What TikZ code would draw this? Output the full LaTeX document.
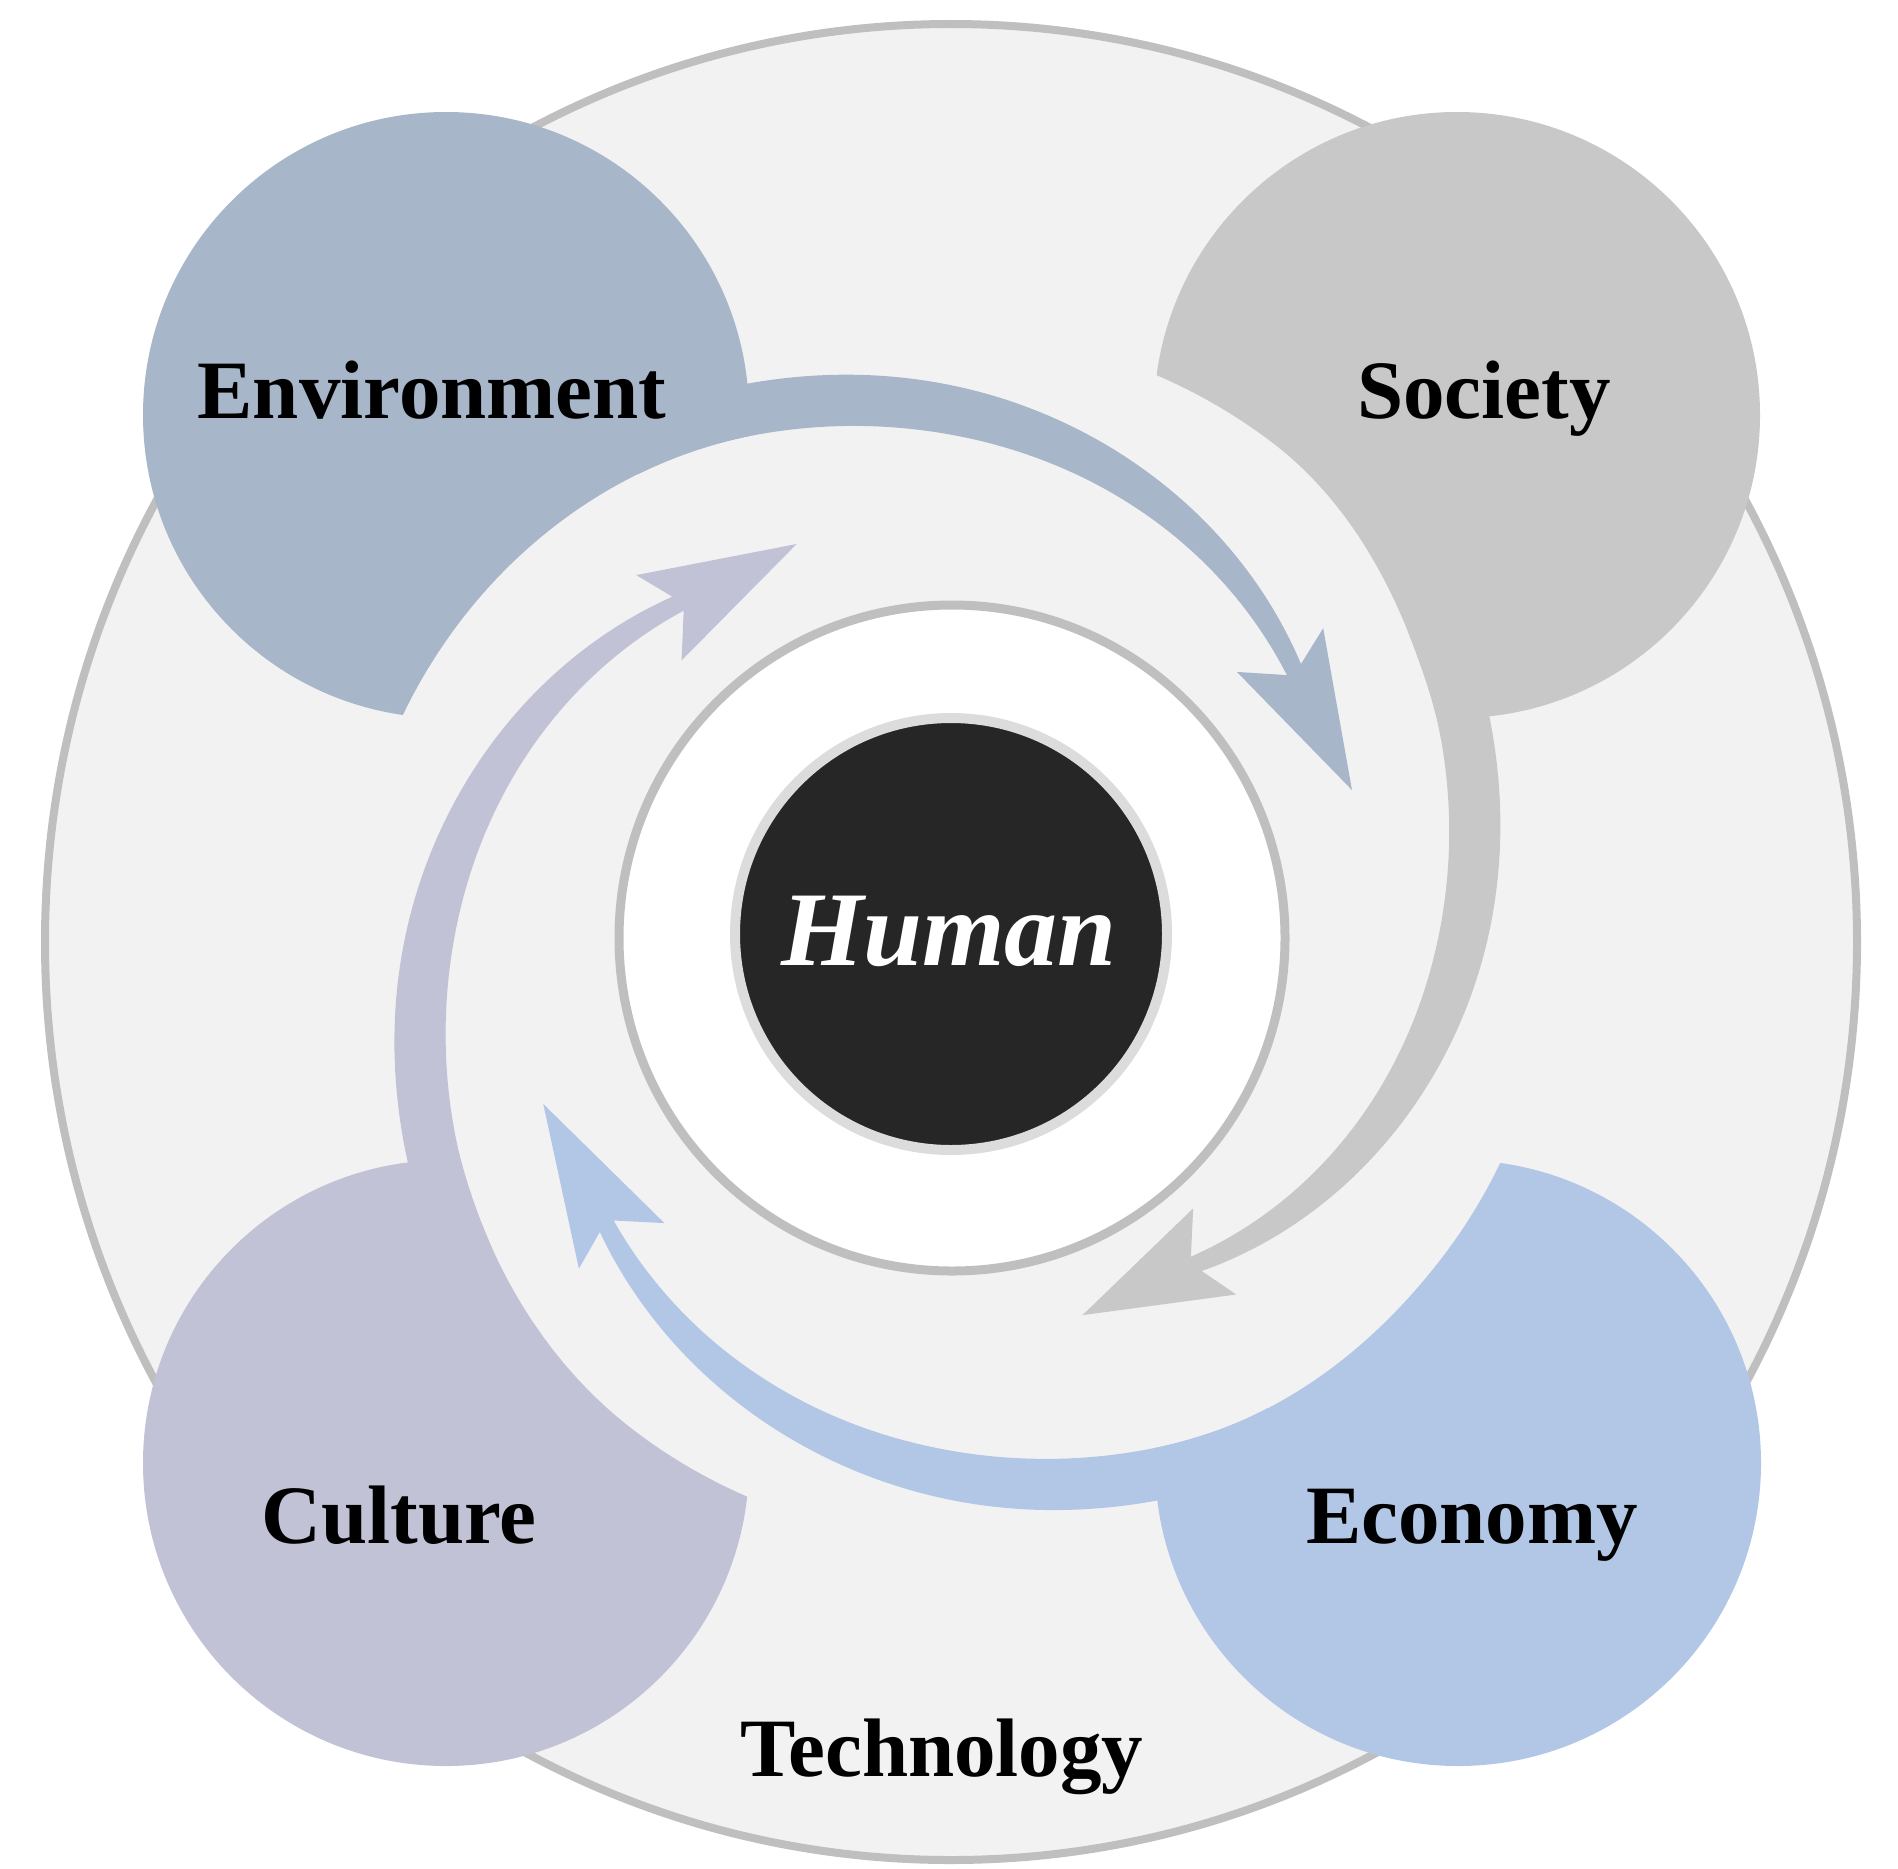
\documentclass[tikz,border=0pt]{standalone}
\usepackage{fontspec}
\setmainfont{Liberation Serif}
\usetikzlibrary{shapes.geometric}
\definecolor{cEnv}{HTML}{A8B6CA}
\definecolor{cSoc}{HTML}{C8C8C8}
\definecolor{cEco}{HTML}{B2C6E6}
\definecolor{cCul}{HTML}{C2C2D6}
\definecolor{cBg}{HTML}{F2F2F2}
\definecolor{cRing}{HTML}{BFBFBF}
\definecolor{cHum}{HTML}{262626}
\definecolor{cHumEdge}{HTML}{DCDCDC}
\tikzset{
  sat/.style={circle, minimum size=303pt, inner sep=0pt, draw=none},
  lab/.style={font=\fontsize{41.5}{48}\selectfont\bfseries, text=black, inner sep=0pt, anchor=base},
  declare function={
    rc(\p)=529+1.8*(\p-90);
    wd(\p)=53-4*ln(1+exp((35-0.65*(\p-38.2))/4));
    uu(\p)=min(1,max(0,(117-\p)/78.8));
    ddr(\p,\a,\b)=(\a)+((\b)-(\a))*uu(\p);
    sm(\x)=\x*\x*(3-2*\x);
    rcut(\p)=rc(111)-0.5*wd(111)+80*(1-exp(-(\p-111)/44.4));
    rin(\p)=(\p>111)?rcut(\p):(rc(\p)-0.5*wd(\p));
    off(\p)=(\p>117)?((\drT)+((\dcT)-(\drT))*sm(min(1,(\p-117)/30))):ddr(\p,\drT,\drH);
    ang(\p)=\p-(\rot)+ddr(\p,\dtT,\dtH);
    ox(\p)=951.5+(rc(\p)+0.5*wd(\p)+ddr(\p,\drT,\drH))*cos(ang(\p));
    oy(\p)=939-(rc(\p)+0.5*wd(\p)+ddr(\p,\drT,\drH))*sin(ang(\p));
    ix(\p)=951.5+(rin(\p)+off(\p))*cos(ang(\p));
    iy(\p)=939-(rin(\p)+off(\p))*sin(ang(\p));
    hx(\a,\r)=951.5+(\r+(\drH))*cos(\a-(\rot)+(\dtH));
    hy(\a,\r)=939-(\r+(\drH))*sin(\a-(\rot)+(\dtH));
  },
}
\begin{document}
\begin{tikzpicture}[x=0.5pt,y=-0.5pt]
\useasboundingbox (0,0) rectangle (1898,1868);
\coordinate (C) at (951.5,939);
% outer technology circle
\node[ellipse, minimum width=906pt, minimum height=918pt, inner sep=0pt, draw=cRing, line width=4pt, fill=cBg] (outer) at (951,942) {};
% satellites
\node[sat, fill=cEnv] (env) at (446,415) {};
\node[sat, fill=cSoc] (soc) at (1457,415) {};
\node[sat, fill=cCul] (cul) at (446,1463) {};
\node[sat, fill=cEco] (eco) at (1458,1463) {};
% cut regions (inside each arrow's inner edge)
\foreach \rot/\drT/\drH/\dtT/\dtH/\dcT in {0/0/0/0/0/0, 90/-13/-29/0/-1.2/6, 180/6/13/0/1.6/0, 270/-8/-3/0/1/0}{
  \fill[cBg] (C)
    -- plot[domain=168:88, samples=80, variable=\s] ({ix(\s)},{iy(\s)})
    -- cycle;
}
% arrows
\foreach \rot/\drT/\drH/\dtT/\dtH/\dcT/\col in {0/0/0/0/0/0/cEnv, 90/-13/-29/0/-1.2/6/cSoc, 180/6/13/0/1.6/0/cEco, 270/-8/-3/0/1/0/cCul}{
  \fill[fill=\col]
    plot[domain=124:38.2, samples=80, variable=\s] ({ox(\s)},{oy(\s)})
    -- ({hx(39.9,484.5)},{hy(39.9,484.5)})
    -- ({hx(20.4,427.3)},{hy(20.4,427.3)})
    -- ({hx(43.1,390.9)},{hy(43.1,390.9)})
    -- plot[domain=38.2:124, samples=80, variable=\s] ({ix(\s)},{iy(\s)})
    -- cycle;
}
% inner ring and human
\node[circle, minimum size=333pt, inner sep=0pt, draw=cRing, line width=4.5pt, fill=white] (ring) at (952,938) {};
\node[circle, minimum size=216pt, inner sep=0pt, draw=cHumEdge, line width=5pt, fill=cHum] (human) at (951,934) {};
\node[font=\fontsize{53}{60}\selectfont\bfseries\itshape, text=white, inner sep=0pt, anchor=base] (thum) at (949,965) {Human};
% labels
\node[lab] (tenv) at (432,418) {Environment};
\node[lab] (tsoc) at (1484,418) {Society};
\node[lab] (tcul) at (399,1543) {Culture};
\node[lab] (teco) at (1472,1543) {Economy};
\node[lab] (ttec) at (942,1776) {Technology};
\end{tikzpicture}
\end{document}
